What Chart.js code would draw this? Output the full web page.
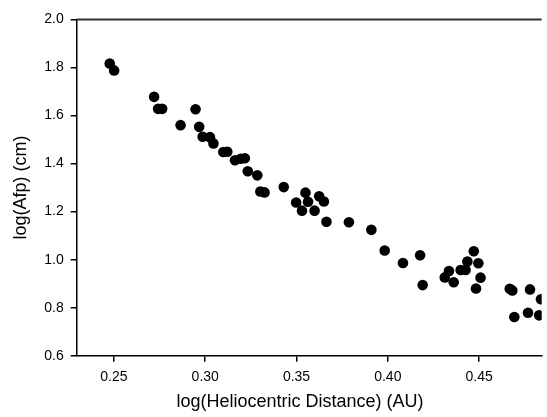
<!DOCTYPE html>
<html>
<head>
<meta charset="utf-8">
<script src="https://cdn.jsdelivr.net/npm/chart.js@4/dist/chart.umd.min.js"></script>
<style>
  html, body { margin: 0; padding: 0; background: #fff; }
  canvas { display: block; }
</style>
</head>
<body>
<canvas id="afpChart" width="547" height="417"></canvas>
<script>
// log heliocentric distance (AU)
const logR = [
  0.2477, 0.2501, 0.2720, 0.2742, 0.2764, 0.2947, 0.2865, 0.2967, 0.2986, 0.3026,
  0.3045, 0.3099, 0.3121, 0.3163, 0.3194, 0.3217, 0.3233, 0.3285, 0.3302, 0.3325,
  0.3430, 0.3498, 0.3549, 0.3563, 0.3530, 0.3599, 0.3624, 0.3650, 0.3664, 0.3787,
  0.3910, 0.3983, 0.4083, 0.4177, 0.4191, 0.4312, 0.4335, 0.4361, 0.4399, 0.4426,
  0.4436, 0.4471, 0.4496, 0.4508, 0.4483, 0.4668, 0.4682, 0.4779, 0.4839, 0.4693,
  0.4768, 0.4829
];
// log Afp (cm)
const logAfp = [
  1.817, 1.788, 1.678, 1.628, 1.628, 1.626, 1.560, 1.553, 1.512, 1.510,
  1.484, 1.448, 1.449, 1.414, 1.420, 1.422, 1.368, 1.351, 1.284, 1.280,
  1.302, 1.238, 1.279, 1.241, 1.204, 1.204, 1.264, 1.242, 1.158, 1.156,
  1.124, 1.038, 0.986, 1.018, 0.894, 0.926, 0.953, 0.906, 0.957, 0.957,
  0.992, 1.035, 0.985, 0.925, 0.880, 0.879, 0.872, 0.876, 0.835, 0.761,
  0.779, 0.768
];
const xTicks = [0.25, 0.30, 0.35, 0.40, 0.45];
const yTicks = [0.6, 0.8, 1.0, 1.2, 1.4, 1.6, 1.8, 2.0];
const xTitle = 'log(Heliocentric Distance) (AU)';
const yTitle = 'log(Afp) (cm)';

const tickFont = { family: 'Arial, "Liberation Sans", sans-serif', size: 14 };

// titles + top frame line, drawn by hand so they sit where the original has them
const frameAndTitles = {
    id: 'frameAndTitles',
    afterDraw(chart) {
        const { ctx, chartArea } = chart;
        ctx.save();
        ctx.strokeStyle = '#333';
        ctx.lineWidth = 2;
        ctx.beginPath();
        ctx.moveTo(chartArea.left, chartArea.top);
        ctx.lineTo(chartArea.right, chartArea.top);
        ctx.stroke();

        ctx.fillStyle = '#000';
        ctx.font = '18px Arial, "Liberation Sans", sans-serif';
        ctx.textAlign = 'center';
        ctx.textBaseline = 'middle';
        ctx.fillText(xTitle, 300, 402);

        ctx.translate(21, (chartArea.top + chartArea.bottom) / 2);
        ctx.rotate(-Math.PI / 2);
        ctx.fillText(yTitle, 0, 0);
        ctx.restore();
    }
};

document.addEventListener('DOMContentLoaded', function () {
    const ctx = document.getElementById('afpChart').getContext('2d');
    new Chart(ctx, {
        type: 'scatter',
        data: {
            datasets: [{
                data: logR.map((x, i) => ({ x: x, y: logAfp[i] })),
                backgroundColor: '#000',
                borderWidth: 0,
                pointRadius: 5.3,
                pointHoverRadius: 5.3
            }]
        },
        options: {
            responsive: false,
            animation: false,
            layout: { padding: { top: 19.5, right: 0, bottom: 0, left: 0 } },
            plugins: { legend: { display: false }, tooltip: { enabled: false } },
            scales: {
                x: {
                    type: 'linear',
                    min: 0.2296,
                    max: 0.4843,
                    afterBuildTicks: s => { s.ticks = xTicks.map(v => ({ value: v })); },
                    afterFit: s => { s.height = 61.3; },
                    ticks: { font: tickFont, color: '#000', padding: 7, callback: v => v.toFixed(2) },
                    grid: { drawOnChartArea: false, tickLength: 6, color: '#000', lineWidth: 1.5 },
                    border: { color: '#000', width: 1.5 }
                },
                y: {
                    min: 0.6,
                    max: 2.0,
                    afterBuildTicks: s => { s.ticks = yTicks.map(v => ({ value: v })); },
                    afterFit: s => { s.width = 76.7; },
                    ticks: { font: tickFont, color: '#000', padding: 7, callback: v => v.toFixed(1) },
                    grid: { drawOnChartArea: false, tickLength: 6, color: '#000', lineWidth: 1.5 },
                    border: { color: '#000', width: 1.5 }
                }
            }
        },
        plugins: [frameAndTitles]
    });
});
</script>
</body>
</html>
